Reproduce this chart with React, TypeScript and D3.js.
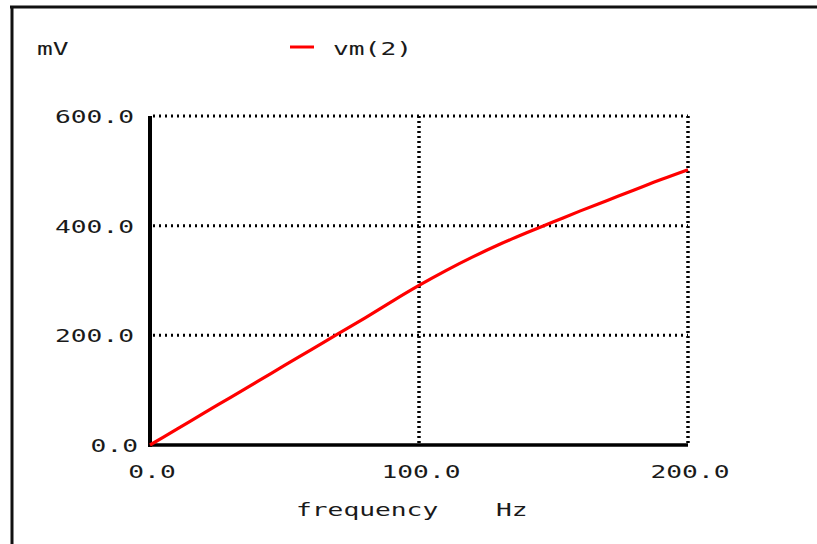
import React from "react";
import * as d3 from "d3";

const freqHz = [0, 10, 20, 30, 40, 50, 60, 70, 80, 90, 100, 110, 120, 130, 140, 150, 160, 170, 180, 190, 200];
const vmMilliVolts = [0, 29, 58, 87, 116, 145, 174, 203, 232, 262, 291, 318, 343, 366, 387, 407, 427, 446, 465, 484, 502];
const xTicks = [0, 100, 200];
const yTicks = [0, 200, 400, 600];
const xTickLabels = ["0.0", "100.0", "200.0"];
const yTickLabels = ["0.0", "200.0", "400.0", "600.0"];
const seriesName = "vm(2)";
const yUnit = "mV";
const xTitle = "frequency";
const xUnit = "Hz";

const FONT = "'DejaVu Sans Mono', 'Liberation Mono', monospace";
const CHAR_W = 15.8;

function T(props: { x: number; y: number; text: string; anchor?: string }) {
  const len = props.text.length * CHAR_W;
  let x = props.x;
  if (props.anchor === "end") x = props.x - len;
  else if (props.anchor === "middle") x = props.x - len / 2;
  return (
    <text
      x={x}
      y={props.y}
      fontFamily={FONT}
      fontSize={18.5}
      fill="#1a1a1a"
      textLength={len}
      lengthAdjust="spacingAndGlyphs"
    >
      {props.text}
    </text>
  );
}

export default function App() {
  const x = d3.scaleLinear().domain([0, 200]).range([150, 688]);
  const y = d3.scaleLinear().domain([0, 600]).range([445, 116]);
  const pts = freqHz.map((f, i) => [f, vmMilliVolts[i]] as [number, number]);
  const line = d3
    .line<[number, number]>()
    .x((d) => x(d[0]))
    .y((d) => y(d[1]))
    .curve(d3.curveMonotoneX);

  return (
    <svg
      width={817}
      height={544}
      style={{ position: "absolute", left: 0, top: 0, background: "#fff" }}
    >
      <rect x={0} y={0} width={817} height={544} fill="#fff" />
      {/* frame */}
      <line x1={10} y1={7} x2={817} y2={7} stroke="#111" strokeWidth={3} />
      <line x1={12} y1={6} x2={12} y2={544} stroke="#111" strokeWidth={3} />

      {/* horizontal grid */}
      {yTicks
        .filter((v) => v !== 0)
        .map((v) => (
          <line
            key={"h" + v}
            x1={x(0) + 3}
            x2={x(200)}
            y1={y(v)}
            y2={y(v)}
            stroke="#000"
            strokeWidth={3}
            strokeDasharray="2,4"
          />
        ))}
      {/* vertical grid */}
      {xTicks
        .filter((v) => v !== 0)
        .map((v) => (
          <line
            key={"v" + v}
            x1={x(v)}
            x2={x(v)}
            y1={y(600)}
            y2={y(0)}
            stroke="#000"
            strokeWidth={3.5}
            strokeDasharray="2,3"
          />
        ))}

      {/* axes */}
      <line x1={x(0)} x2={x(0)} y1={y(600)} y2={y(0) + 2} stroke="#000" strokeWidth={4} />
      <line x1={x(0) - 2} x2={x(200)} y1={y(0)} y2={y(0)} stroke="#000" strokeWidth={3.5} />

      {/* series */}
      <path d={line(pts) || ""} fill="none" stroke="#ff0000" strokeWidth={3.2} />

      {/* tick labels */}
      {yTicks.map((v, i) => (
        <T key={"yl" + v} x={134 + (v === 0 ? 4 : 0)} y={y(v) + 7} text={yTickLabels[i]} anchor="end" />
      ))}
      {xTicks.map((v, i) => (
        <T key={"xl" + v} x={x(v) + 2} y={478} text={xTickLabels[i]} anchor="middle" />
      ))}

      {/* titles */}
      <T x={37} y={55} text={yUnit} />
      <T x={296} y={516} text={xTitle} />
      <T x={496} y={516} text={xUnit} />

      {/* legend */}
      <line x1={290} x2={314} y1={47} y2={47} stroke="#ff0000" strokeWidth={3} />
      <T x={333} y={55} text={seriesName} />
    </svg>
  );
}
